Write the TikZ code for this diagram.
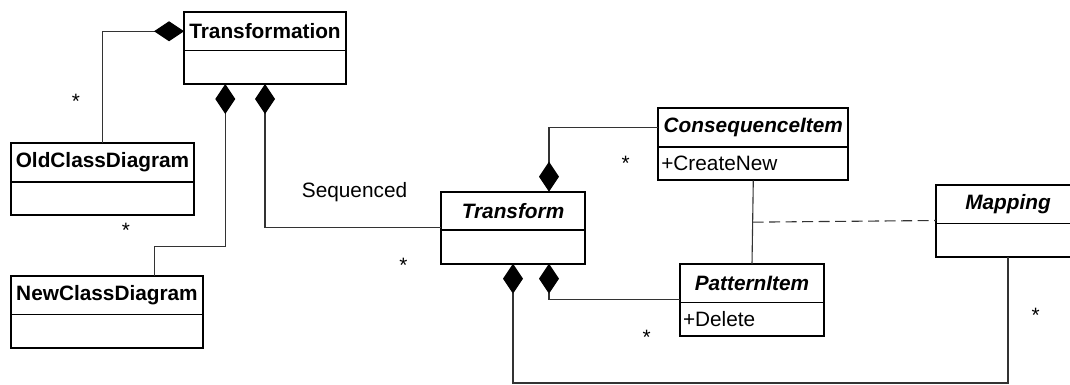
\documentclass[tikz,border=0pt]{standalone}
\usepackage{fontspec}
\setmainfont{Liberation Sans}
\usetikzlibrary{arrows.meta,calc}
\newcommand\dfont{\fontsize{20.8pt}{24pt}\selectfont}
\tikzset{
  hdr/.style={draw=black, line width=1.9pt, minimum height=38.5pt, inner sep=2pt, outer sep=0pt, font=\dfont\bfseries},
  hdrabs/.style={hdr, font=\dfont\bfseries\itshape},
  cbody/.style={draw=black, line width=1.9pt, minimum height=33.5pt, inner xsep=3pt, inner ysep=0pt, outer sep=0pt, align=left, font=\dfont},
  conn/.style={line width=1.1pt, draw=black!80},
  compos/.style={conn, {Diamond[length=30pt,width=20pt,color=black,fill=black]}-},
  mult/.style={anchor=base, inner sep=0pt, font=\dfont},
}
\begin{document}
\begin{tikzpicture}[x=1pt,y=1pt]
\useasboundingbox (0,0) rectangle (1070,384);
\clip (0,0) rectangle (1070,384);
% classes
\node[hdr, minimum width=162pt, anchor=north west] (T) at (184,372) {Transformation};
\node[cbody, minimum width=162pt, anchor=north] (Tb) at (T.south) {};
\node[hdr, minimum width=183pt, anchor=north west] (O) at (11,240.7) {OldClassDiagram};
\node[cbody, minimum width=183pt, anchor=north] (Ob) at (O.south) {};
\node[hdr, minimum width=192pt, anchor=north west] (N) at (11,108) {NewClassDiagram};
\node[cbody, minimum width=192pt, anchor=north] (Nb) at (N.south) {};
\node[hdrabs, minimum width=144pt, anchor=north west] (Tr) at (441,192.3) {Transform};
\node[cbody, minimum width=144pt, anchor=north] (Trb) at (Tr.south) {};
\node[hdrabs, minimum width=190pt, anchor=north west] (C) at (658.3,275.7) {ConsequenceItem};
\node[cbody, text width=184pt, anchor=north] (Cb) at (C.south) {+CreateNew};
\node[hdrabs, minimum width=144pt, anchor=north west] (P) at (680,120) {PatternItem};
\node[cbody, text width=138pt, anchor=north] (Pb) at (P.south) {+Delete};
\node[hdrabs, minimum width=144pt, anchor=north west] (M) at (936,199) {Mapping};
\node[cbody, minimum width=144pt, anchor=north] (Mb) at (M.south) {};
% helper coordinates
\coordinate (n2) at ([xshift=143.7pt]N.north west);
\coordinate (bot) at (0,1);
% connectors
\draw[compos] (T.west) -| (O.north);
\draw[compos] ([xshift=41.3pt]Tb.south west) |- ($(n2)+(0,29.3)$) -- (n2);
\draw[compos] (Tb.south) |- ([yshift=2.3pt]Tr.south west);
\draw[compos] ([xshift=108pt]Tr.north west) |- (C.west);
\draw[compos] ([xshift=108pt]Trb.south west) |- ([yshift=2.7pt]P.south west);
\draw[compos] (Trb.south) |- (bot -| Mb.south) -- (Mb.south);
\draw[conn] (Cb.south) -- (P.north);
\draw[conn, dash pattern=on 11pt off 5.5pt] ($(Cb.south)!0.5!(P.north)$) -- ([yshift=3pt]M.south west);
% labels
\node[mult] (s1) at (76,276) {*};
\node[mult] (s2) at (126,146.3) {*};
\node[mult] (s3) at (403.3,112) {*};
\node[mult] (s4) at (625.7,213.7) {*};
\node[mult] (s5) at (646.7,39.3) {*};
\node[mult] (s6) at (1035.7,61.3) {*};
\node[anchor=base west, inner sep=0pt, font=\dfont] (seq) at (301.7,186.5) {Sequenced};
\end{tikzpicture}
\end{document}
